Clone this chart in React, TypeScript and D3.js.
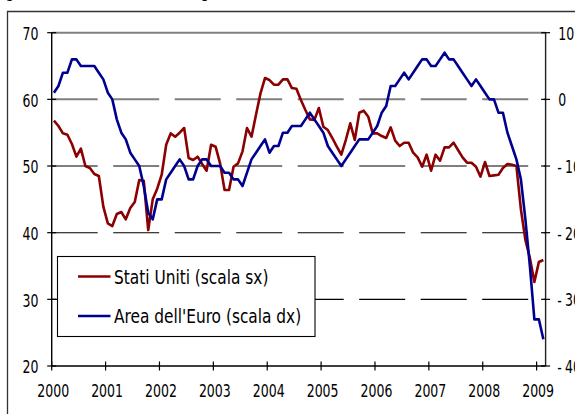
import { useEffect, useRef } from 'react'
import * as d3 from 'd3'

// Jan 2000 .. Feb 2009, monthly
const years = ['2000', '2001', '2002', '2003', '2004', '2005', '2006', '2007', '2008', '2009']
const leftTicks = [20, 30, 40, 50, 60, 70]
const rightTicks = [-40, -30, -20, -10, 0, 10]

// Stati Uniti (scala sx)
const usIndex = [
  56.8, 56.0, 54.9, 54.7, 53.3, 51.4, 52.6, 50.0, 49.7, 48.8, 48.5, 43.9,
  41.4, 41.0, 42.8, 43.1, 42.0, 43.7, 44.6, 47.9, 47.8, 40.4, 45.0, 46.6,
  48.7, 53.2, 54.9, 54.4, 55.0, 55.7, 51.2, 50.9, 51.4, 50.3, 49.3, 53.2,
  52.9, 50.4, 46.4, 46.4, 49.9, 50.4, 52.2, 55.7, 54.4, 57.7, 60.9, 63.2,
  62.9, 62.2, 62.2, 63.0, 63.0, 61.7, 61.6, 59.9, 58.4, 57.0, 56.9, 58.7,
  55.9, 55.4, 54.2, 52.9, 51.7, 53.9, 56.4, 53.9, 58.0, 58.3, 57.4, 54.9,
  54.9, 54.5, 54.2, 55.8, 53.8, 53.0, 53.5, 53.5, 52.0, 51.3, 49.9, 51.7,
  49.3, 51.7, 50.8, 52.8, 52.8, 53.5, 52.4, 51.3, 50.5, 50.5, 49.9, 48.4,
  50.6, 48.5, 48.6, 48.7, 49.7, 50.3, 50.2, 50.0, 43.5, 38.9, 36.2, 32.6,
  35.6, 35.9,
]

// Area dell'Euro (scala dx)
const euroIndex = [
  1, 2, 4, 4, 6, 6, 5, 5, 5, 5, 4, 3,
  1, 0, -3, -5, -6, -8, -9, -10, -13, -17, -18, -15,
  -15, -12, -11, -10, -9, -10, -12, -12, -10, -9, -9, -10,
  -10, -10, -11, -11, -12, -12, -13, -11, -9, -8, -7, -6,
  -8, -7, -7, -5, -5, -4, -4, -4, -3, -2, -3, -4,
  -5, -7, -8, -9, -10, -9, -8, -7, -6, -6, -6, -5,
  -4, -2, -1, 2, 2, 3, 4, 3, 4, 5, 6, 6,
  5, 5, 6, 7, 6, 6, 5, 4, 3, 2, 3, 2,
  1, 0, 0, -2, -2, -5, -7, -9, -12, -18, -25, -33,
  -33, -36,
]

const legendItems = [
  { label: 'Stati Uniti (scala sx)', color: '#8b0000' },
  { label: "Area dell'Euro (scala dx)", color: '#000090' },
]

const heading = '(grandezze in livello e destagionalizzate)'

export default function App() {
  const ref = useRef<SVGSVGElement | null>(null)

  useEffect(() => {
    if (!ref.current) return
    const width = 575
    const height = 414
    const plot = { left: 51.7, right: 545.6, top: 32.7, bottom: 366 }
    const font = '"DejaVu Sans Condensed", "DejaVu Sans", sans-serif'
    const squeeze = 0.82

    const svg = d3.select(ref.current)
    svg.selectAll('*').remove()

    const x = d3
      .scaleBand<number>()
      .domain(d3.range(usIndex.length))
      .range([plot.left, plot.right])
    const yL = d3.scaleLinear().domain([20, 70]).range([plot.bottom, plot.top])
    const yR = d3.scaleLinear().domain([-40, 10]).range([plot.bottom, plot.top])
    const cx = (i: number) => (x(i) || 0) + x.bandwidth() / 2

    // partly hidden heading
    svg
      .append('text')
      .attr('transform', 'translate(0,-3.5) scale(0.93,1)')
      .style('font-family', font)
      .style('font-size', '17px')
      .text(heading)

    // outer frame
    svg
      .append('path')
      .attr('d', `M7.5,${height}V11.5H${width}`)
      .attr('fill', 'none')
      .attr('stroke', '#333')
      .attr('stroke-width', 1.3)

    // grid
    svg
      .append('g')
      .selectAll('line')
      .data(leftTicks.filter((d) => d > 20))
      .join('line')
      .attr('x1', plot.left)
      .attr('x2', plot.right)
      .attr('y1', (d) => yL(d))
      .attr('y2', (d) => yL(d))
      .attr('stroke', (d) => (d >= 60 ? '#808080' : '#000'))
      .attr('stroke-width', (d) => (d >= 60 ? 2 : 1.1))
      .attr('stroke-dasharray', (d) => (d === 70 ? null : '46,15.5'))

    // axis lines
    svg
      .append('path')
      .attr('d', `M${plot.left},${plot.top}V${plot.bottom}H${plot.right}`)
      .attr('fill', 'none')
      .attr('stroke', '#000')
      .attr('stroke-width', 1.4)
    svg
      .append('line')
      .attr('x1', plot.right)
      .attr('x2', plot.right)
      .attr('y1', plot.top)
      .attr('y2', plot.bottom)
      .attr('stroke', '#222')
      .attr('stroke-width', 1.4)

    // left ticks + labels
    const lAxis = svg.append('g')
    lAxis
      .selectAll('line')
      .data(leftTicks)
      .join('line')
      .attr('x1', plot.left - 4.5)
      .attr('x2', plot.left + 4.5)
      .attr('y1', (d) => yL(d))
      .attr('y2', (d) => yL(d))
      .attr('stroke', '#000')
      .attr('stroke-width', 1.2)
    lAxis
      .selectAll('text')
      .data(leftTicks)
      .join('text')
      .attr('transform', (d) => `translate(38.5,${yL(d) + 1.2}) scale(${squeeze},1)`)
      .attr('dy', '0.36em')
      .attr('text-anchor', 'end')
      .style('font-family', font)
      .style('font-size', '17px')
      .text((d) => d)

    // right ticks + labels (cut by the picture edge, as in the original)
    const rAxis = svg.append('g')
    rAxis
      .selectAll('line')
      .data(rightTicks)
      .join('line')
      .attr('x1', plot.right - 4.5)
      .attr('x2', plot.right + 4.5)
      .attr('y1', (d) => yR(d))
      .attr('y2', (d) => yR(d))
      .attr('stroke', '#000')
      .attr('stroke-width', 1.2)
    const rText = rAxis
      .selectAll('text')
      .data(rightTicks)
      .join('text')
      .attr('transform', (d) => `translate(${d < 0 ? 557.3 : 558.2},${yR(d) + 0.8}) scale(${squeeze},1)`)
      .attr('dy', '0.36em')
      .style('font-family', font)
      .style('font-size', '17px')
    rText
      .filter((d) => d < 0)
      .append('tspan')
      .text('-')
    rText
      .append('tspan')
      .attr('dx', (d) => (d < 0 ? 4 : 0))
      .text((d) => Math.abs(d))

    // x ticks + year labels
    const xAxis = svg.append('g')
    const yearPos = (k: number) => x(k * 12) || 0
    xAxis
      .selectAll('line')
      .data(years)
      .join('line')
      .attr('x1', (_, k) => yearPos(k))
      .attr('x2', (_, k) => yearPos(k))
      .attr('y1', plot.bottom - 4.5)
      .attr('y2', plot.bottom + 4.5)
      .attr('stroke', '#000')
      .attr('stroke-width', 1.2)
    xAxis
      .selectAll('text')
      .data(years)
      .join('text')
      .attr('transform', (_, k) => `translate(${yearPos(k) + 1.5},397) scale(${squeeze},1)`)
      .attr('text-anchor', 'middle')
      .style('font-family', font)
      .style('font-size', '17px')
      .text((d) => d)

    // series
    const usLine = d3
      .line<number>()
      .x((_, i) => cx(i))
      .y((d) => yL(d))
    const euLine = d3
      .line<number>()
      .x((_, i) => cx(i))
      .y((d) => yR(d))

    svg
      .append('path')
      .attr('d', usLine(usIndex))
      .attr('fill', 'none')
      .attr('stroke', legendItems[0].color)
      .attr('stroke-width', 2.6)
      .attr('stroke-linejoin', 'round')
    svg
      .append('path')
      .attr('d', euLine(euroIndex))
      .attr('fill', 'none')
      .attr('stroke', legendItems[1].color)
      .attr('stroke-width', 2.6)
      .attr('stroke-linejoin', 'round')

    // legend
    const legend = svg.append('g').attr('transform', 'translate(57.5,256.5)')
    legend
      .append('rect')
      .attr('width', 257.5)
      .attr('height', 80)
      .attr('fill', '#fff')
      .attr('stroke', '#000')
      .attr('stroke-width', 1.1)
    const rows = legend
      .selectAll('g')
      .data(legendItems)
      .join('g')
      .attr('transform', (_, k) => `translate(0,${20 + k * 39.5})`)
    rows
      .append('line')
      .attr('x1', 20.5)
      .attr('x2', 53)
      .attr('stroke', (d) => d.color)
      .attr('stroke-width', 2.6)
    rows
      .append('text')
      .attr('transform', 'translate(56.5,0.5) scale(0.9,1)')
      .attr('dy', '0.36em')
      .style('font-family', font)
      .style('font-size', '19px')
      .text((d) => d.label)
  }, [])

  return (
    <svg
      ref={ref}
      width={575}
      height={414}
      style={{ position: 'absolute', left: 0, top: 0, background: '#fff' }}
    />
  )
}
